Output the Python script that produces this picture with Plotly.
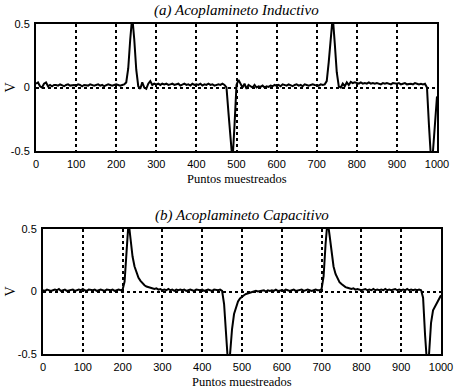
import plotly.graph_objects as go

# sample index (every 5 points)
puntos = list(range(0, 1001, 5))

# (a) Acoplamiento inductivo
v_inductivo = [
    0.03, 0.04, 0.01, 0.00, 0.03, 0.04, 0.01, 0.02, 0.01, 0.02,
    0.02, 0.015, 0.025, 0.02, 0.01, 0.02, 0.025, 0.015, 0.02, 0.02,
    0.015, 0.025, 0.02, 0.01, 0.02, 0.02, 0.015, 0.025, 0.02, 0.015,
    0.02, 0.025, 0.015, 0.02, 0.01, 0.02, 0.025, 0.02, 0.015, 0.02,
    0.025, 0.02, 0.015, 0.02, 0.025, 0.04, 0.15, 0.38, 0.56, 0.38,
    0.14, 0.01, -0.01, 0.04, 0.0, -0.01, 0.03, 0.05, 0.02, 0.03,
    0.025, 0.03, 0.02, 0.03, 0.025, 0.03, 0.02, 0.025, 0.03, 0.02,
    0.025, 0.03, 0.015, 0.025, 0.03, 0.02, 0.025, 0.015, 0.03, 0.02,
    0.025, 0.02, 0.03, 0.015, 0.025, 0.02, 0.03, 0.02, 0.025, 0.015,
    0.02, 0.025, 0.02, 0.03, 0.02, 0.0, -0.2, -0.45, -0.58, -0.3,
    0.02, 0.06, 0.03, 0.0, 0.03, -0.01, 0.02, 0.01, 0.0, 0.02,
    0.0, 0.01, 0.005, 0.015, 0.0, 0.01, 0.005, 0.015, 0.01, 0.02,
    0.015, 0.02, 0.01, 0.025, 0.02, 0.015, 0.025, 0.02, 0.01, 0.02,
    0.025, 0.015, 0.02, 0.01, 0.025, 0.02, 0.015, 0.02, 0.025, 0.02,
    0.02, 0.015, 0.025, 0.02, 0.025, 0.05, 0.2, 0.42, 0.56, 0.35,
    0.12, 0.01, 0.0, 0.03, 0.01, 0.04, 0.02, 0.045, 0.035, 0.04,
    0.035, 0.03, 0.04, 0.03, 0.035, 0.03, 0.04, 0.03, 0.035, 0.03,
    0.035, 0.03, 0.025, 0.035, 0.03, 0.035, 0.03, 0.025, 0.035, 0.03,
    0.03, 0.035, 0.025, 0.03, 0.035, 0.025, 0.03, 0.03, 0.025, 0.035,
    0.03, 0.025, 0.03, 0.025, 0.03, 0.0, -0.3, -0.56, -0.5, -0.25,
    -0.07,
]

# (b) Acoplamiento capacitivo
v_capacitivo = [
    0.01, 0.005, 0.015, 0.01, 0.005, 0.01, 0.015, 0.01, 0.02, 0.005,
    0.01, 0.015, 0.005, 0.01, 0.01, 0.015, 0.005, 0.01, 0.015, 0.01,
    0.02, 0.01, 0.005, 0.015, 0.01, 0.01, 0.015, 0.005, 0.01, 0.015,
    0.01, 0.005, 0.015, 0.01, 0.01, 0.015, 0.005, 0.01, 0.015, 0.01,
    0.015, 0.08, 0.35, 0.56, 0.42, 0.28, 0.2, 0.15, 0.11, 0.085,
    0.065, 0.05, 0.04, 0.035, 0.03, 0.025, 0.02, 0.025, 0.015, 0.02,
    0.01, 0.015, 0.01, 0.02, 0.01, 0.015, 0.005, 0.015, 0.01, 0.015,
    0.01, 0.015, 0.005, 0.01, 0.015, 0.01, 0.005, 0.015, 0.01, 0.01,
    0.015, 0.005, 0.01, 0.015, 0.01, 0.005, 0.015, 0.01, 0.01, 0.015,
    0.005, -0.1, -0.4, -0.58, -0.5, -0.3, -0.18, -0.12, -0.08, -0.055,
    -0.04, -0.03, -0.02, -0.015, -0.01, -0.005, 0.0, 0.005, 0.0, 0.005,
    0.005, 0.01, 0.0, 0.01, 0.005, 0.01, 0.005, 0.015, 0.005, 0.01,
    0.01, 0.005, 0.015, 0.01, 0.005, 0.01, 0.015, 0.005, 0.01, 0.01,
    0.015, 0.005, 0.01, 0.015, 0.01, 0.005, 0.01, 0.015, 0.01, 0.01,
    0.02, 0.12, 0.38, 0.57, 0.45, 0.3, 0.2, 0.14, 0.1, 0.075,
    0.06, 0.045, 0.035, 0.03, 0.025, 0.02, 0.025, 0.015, 0.02, 0.015,
    0.01, 0.015, 0.02, 0.01, 0.015, 0.01, 0.02, 0.01, 0.015, 0.01,
    0.015, 0.01, 0.02, 0.01, 0.015, 0.01, 0.015, 0.02, 0.01, 0.015,
    0.01, 0.015, 0.01, 0.02, 0.01, 0.015, 0.01, 0.015, 0.01, 0.015,
    0.01, -0.05, -0.35, -0.58, -0.5, -0.25, -0.15, -0.12, -0.09, -0.06,
    -0.03,
]

x_ticks = [0, 100, 200, 300, 400, 500, 600, 700, 800, 900, 1000]
x_ticktext = [str(t) for t in x_ticks]
y_ticks = [-0.5, 0, 0.5]
y_ticktext = ["-0.5", "0", "0.5"]

titles = ["(a) Acoplamineto Inductivo", "(b) Acoplamineto Capacitivo"]
xlabel = "Puntos muestreados"
ylabel = "V"

W, H = 459, 390
# pixel boxes of the two panels (left, right, top, bottom)
boxes = [(36, 437, 24, 151), (43, 441, 229, 354)]

fig = go.Figure()
fig.add_trace(go.Scatter(x=puntos, y=v_inductivo, mode="lines",
                         line=dict(color="black", width=2), xaxis="x", yaxis="y",
                         showlegend=False))
fig.add_trace(go.Scatter(x=puntos, y=v_capacitivo, mode="lines",
                         line=dict(color="black", width=2), xaxis="x2", yaxis="y2",
                         showlegend=False))

tickfont = dict(family="Liberation Sans, Arial", size=11, color="black")
serif = "Liberation Serif, Times New Roman"

layout = dict(
    width=W, height=H,
    margin=dict(l=0, r=0, t=0, b=0, autoexpand=False),
    paper_bgcolor="white", plot_bgcolor="white",
    showlegend=False,
    hovermode=False,
    annotations=[],
)

for i, (l, r, t, b) in enumerate(boxes):
    sx = "" if i == 0 else "2"
    xd = [l / W, r / W]
    yd = [1 - b / H, 1 - t / H]
    layout["xaxis" + sx] = dict(
        domain=xd, range=[0, 1000], anchor="y" + sx, automargin=False,
        tickvals=x_ticks, ticktext=x_ticktext, tickfont=tickfont,
        showgrid=True, gridcolor="black", griddash="dot", gridwidth=2,
        showline=True, linecolor="black", linewidth=2, mirror=True,
        ticks="", zeroline=False, ticklabelstandoff=2,
    )
    layout["yaxis" + sx] = dict(
        domain=yd, range=[-0.5, 0.5], anchor="x" + sx, automargin=False,
        tickvals=y_ticks, ticktext=y_ticktext, tickfont=tickfont,
        showgrid=True, gridcolor="black", griddash="dot", gridwidth=2,
        showline=True, linecolor="black", linewidth=2, mirror=True,
        ticks="", zeroline=False, ticklabelstandoff=2,
    )
    cx = (l + r) / 2 / W
    layout["annotations"].append(dict(
        text="<i>" + titles[i] + "</i>", x=cx, y=1 - (t - 14) / H,
        xref="paper", yref="paper", xanchor="center", yanchor="middle",
        showarrow=False, font=dict(family=serif, size=15, color="black")))
    layout["annotations"].append(dict(
        text=xlabel, x=cx, y=1 - (b + 28) / H,
        xref="paper", yref="paper", xanchor="center", yanchor="middle",
        showarrow=False, font=dict(family=serif, size=12.5, color="black")))
    layout["annotations"].append(dict(
        text=ylabel, x=10 / W, y=1 - (t + b) / 2 / H, textangle=-90,
        xref="paper", yref="paper", xanchor="center", yanchor="middle",
        showarrow=False, font=dict(family=serif, size=14, color="black")))

fig.update_layout(**layout)
fig.write_html("out.html",
               config={"displayModeBar": False, "staticPlot": True},
               post_script="document.body.style.margin='0';document.body.style.overflow='hidden';")
